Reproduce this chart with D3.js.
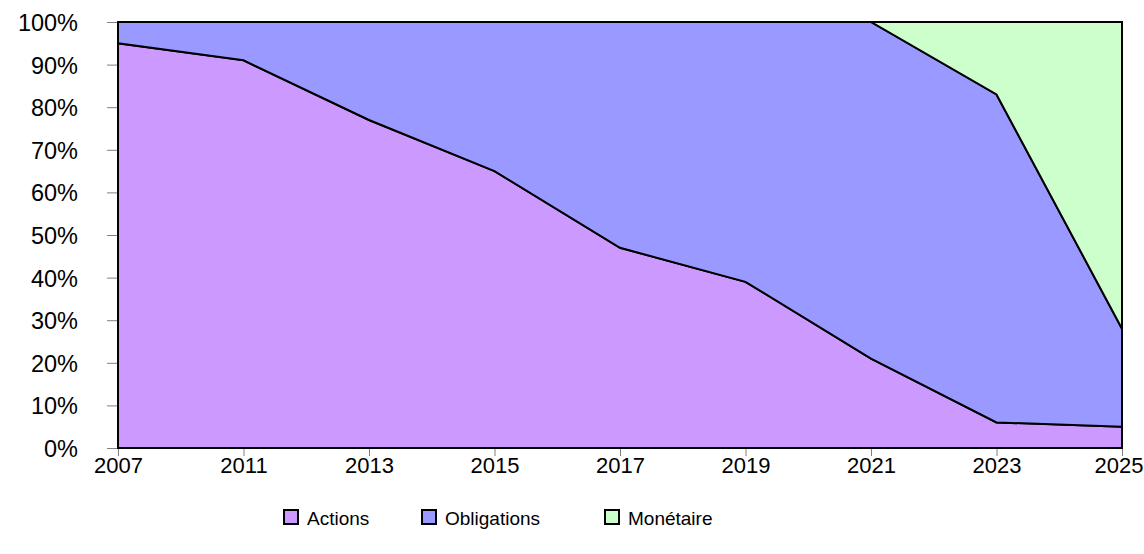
<!DOCTYPE html>
<html>
  <head>
    <meta charset="utf-8">
    <title>Allocation</title>
    <script src="https://d3js.org/d3.v7.min.js"></script>
    <style>
      body { margin: 0; background: #fff; }
      text { font-family: "Liberation Sans", Arial, sans-serif; fill: #000; }
    </style>
  </head>
  <body>
    <script>
      // data (share of each asset, %)
      const years = ["2007", "2011", "2013", "2015", "2017", "2019", "2021", "2023", "2025"];
      const actions = [95, 91, 77, 65, 47, 39, 21, 6, 5];
      const obligations = [5, 9, 23, 35, 53, 61, 79, 77, 23];
      const monetaire = [0, 0, 0, 0, 0, 0, 0, 17, 72];
      const seriesNames = ["Actions", "Obligations", "Monétaire"];
      const seriesColors = ["#CC99FF", "#9999FF", "#CCFFCC"];
      const yTicks = [0, 10, 20, 30, 40, 50, 60, 70, 80, 90, 100];

      const width = 1144;
      const height = 554;
      const plotLeft = 118, plotRight = 1122, plotTop = 22, plotBottom = 448;

      const rows = years.map(function(yr, i) {
        return { year: yr, Actions: actions[i], Obligations: obligations[i], "Monétaire": monetaire[i] };
      });

      const svg = d3.select("body")
        .append("svg")
          .attr("width", width)
          .attr("height", height);

      const x = d3.scalePoint()
        .domain(years)
        .range([plotLeft, plotRight]);

      const y = d3.scaleLinear()
        .domain([0, 100])
        .range([plotBottom, plotTop]);

      // axes (gray ticks)
      const yAxis = d3.axisLeft(y)
        .tickValues(yTicks)
        .tickSize(11)
        .tickFormat(function(d) { return d + "%"; });

      const xAxis = d3.axisBottom(x)
        .tickSize(8);

      svg.append("g")
        .attr("transform", "translate(" + plotLeft + ",0)")
        .call(yAxis)
        .call(function(g) {
          g.select(".domain").attr("stroke", "#808080").attr("stroke-width", 1);
          g.selectAll(".tick line").attr("stroke", "#808080");
          g.selectAll(".tick text")
            .attr("font-size", 23.5)
            .attr("font-family", "Liberation Sans, Arial, sans-serif")
            .attr("dy", 8.5)
            .attr("x", -40);
        });

      svg.append("g")
        .attr("transform", "translate(0," + plotBottom + ")")
        .call(xAxis)
        .call(function(g) {
          g.select(".domain").attr("stroke", "#808080").attr("stroke-width", 1);
          g.selectAll(".tick line").attr("stroke", "#808080");
          g.selectAll(".tick text")
            .attr("font-size", 22)
            .attr("font-family", "Liberation Sans, Arial, sans-serif")
            .attr("dy", 0)
            .attr("y", 25);
          // keep the last label inside the picture
          g.selectAll(".tick text")
            .filter(function(d) { return d === years[years.length - 1]; })
            .attr("text-anchor", "end")
            .attr("x", 21);
        });

      // stacked areas
      const stack = d3.stack().keys(seriesNames);
      const layers = stack(rows);

      const area = d3.area()
        .x(function(d) { return x(d.data.year); })
        .y0(function(d) { return y(d[0]); })
        .y1(function(d) { return y(d[1]); });

      svg.append("g")
        .selectAll("path")
        .data(layers)
        .join("path")
          .attr("d", function(d) { return area(d) + "Z"; })
          .attr("fill", function(d, i) { return seriesColors[i]; })
          .attr("stroke", "#000")
          .attr("stroke-width", 2)
          .attr("stroke-linejoin", "miter");

      // legend
      const legendX = [284, 422, 605];
      const legend = svg.append("g")
        .selectAll("g")
        .data(seriesNames)
        .join("g")
          .attr("transform", function(d, i) { return "translate(" + legendX[i] + ",510)"; });

      legend.append("rect")
        .attr("width", 14)
        .attr("height", 14)
        .attr("fill", function(d, i) { return seriesColors[i]; })
        .attr("stroke", "#000")
        .attr("stroke-width", 2);

      legend.append("text")
        .attr("x", 23)
        .attr("y", 15)
        .attr("font-size", 19)
        .text(function(d) { return d; });
    </script>
  </body>
</html>
